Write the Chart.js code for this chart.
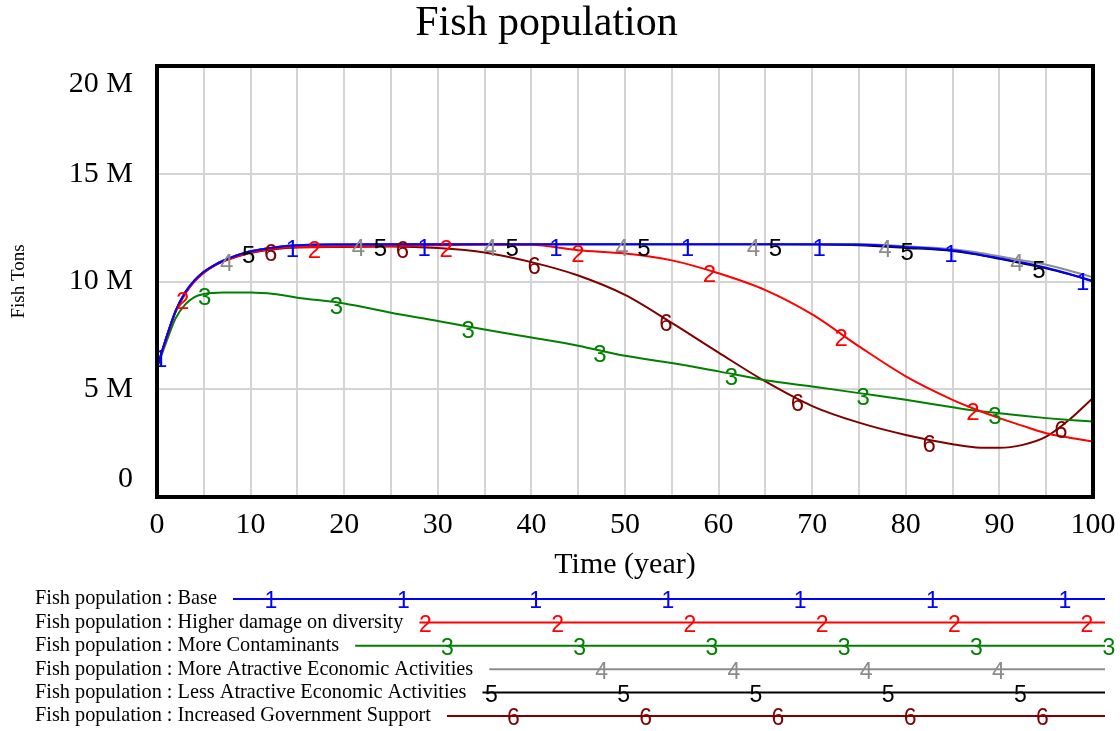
<!DOCTYPE html>
<html><head><meta charset="utf-8">
<script src="https://cdn.jsdelivr.net/npm/chart.js@4.4.1/dist/chart.umd.min.js"></script>
<style>html,body{margin:0;padding:0;background:#fff}#wrap{width:1120px;height:731px;position:relative}</style>
</head><body><div id="wrap"><canvas id="c"></canvas></div>
<script>
// ---- data (values in millions of fish tons) ----
const years = [0,1,2,3,4,5,6,7,8,10,12.5,15,20,25,30,35,40,45,50,55,60,65,70,75,80,85,87.5,90,92.5,95,97.5,100];
const base = [6.0,7.4,8.65,9.49,10.05,10.45,10.73,10.95,11.13,11.4,11.58,11.68,11.72,11.73,11.73,11.73,11.73,11.73,11.73,11.73,11.73,11.73,11.73,11.72,11.6,11.45,11.28,11.08,10.88,10.64,10.35,10.0];
const higherDamage = [6.0,7.35,8.6,9.42,10.0,10.4,10.7,10.92,11.08,11.33,11.52,11.6,11.62,11.65,11.68,11.72,11.7,11.45,11.3,10.98,10.38,9.6,8.47,6.99,5.6,4.51,4.06,3.66,3.3,2.96,2.75,2.57];
const moreContaminants = [6.0,7.2,8.3,8.93,9.28,9.42,9.47,9.49,9.49,9.49,9.42,9.25,8.98,8.55,8.17,7.77,7.4,7.02,6.55,6.22,5.83,5.42,5.13,4.82,4.51,4.16,4.0,3.89,3.77,3.66,3.57,3.5];
const moreAttractive = [6.0,7.4,8.65,9.49,10.05,10.45,10.73,10.95,11.13,11.4,11.58,11.68,11.72,11.73,11.73,11.73,11.73,11.73,11.73,11.73,11.73,11.73,11.73,11.73,11.63,11.5,11.36,11.17,10.98,10.78,10.5,10.2];
const lessAttractive = [6.0,7.4,8.65,9.49,10.05,10.45,10.73,10.95,11.13,11.4,11.58,11.68,11.72,11.73,11.73,11.73,11.73,11.73,11.73,11.73,11.73,11.73,11.72,11.68,11.56,11.42,11.26,11.05,10.84,10.61,10.33,10.02];
const govSupport = [6.0,7.4,8.62,9.45,10.02,10.42,10.7,10.92,11.08,11.33,11.5,11.58,11.6,11.62,11.55,11.35,10.9,10.28,9.38,8.08,6.7,5.36,4.22,3.45,2.88,2.45,2.3,2.28,2.42,2.8,3.6,4.6];

const seriesNames = [
  'Fish population : Base',
  'Fish population : Higher damage on diversity',
  'Fish population : More Contaminants',
  'Fish population : More Atractive Economic Activities',
  'Fish population : Less Atractive Economic Activities',
  'Fish population : Increased Government Support'
];
const seriesValues = [base, higherDamage, moreContaminants, moreAttractive, lessAttractive, govSupport];
const seriesDigits = ['1','2','3','4','5','6'];
const seriesColors = ['#0000ff','#ff0000','#008000','#8c8c8c','#000000','#800000'];
const yTickValues = [0,5,10,15,20];
const yTickText = ['0','5 M','10 M','15 M','20 M'];
const xTickText = ['0','10','20','30','40','50','60','70','80','90','100'];

// marker (digit) placement along the curves, in years
const markerStart = [0.4, 2.75, 5.1, 7.45, 9.8, 12.15];
const markerStep = 14.07;

const SERIF = '"Liberation Serif", "Times New Roman", serif';
const SANS = '"Liberation Sans", Arial, sans-serif';

const datasets = seriesValues.map((vals, i) => ({
  label: seriesNames[i],
  data: years.map((t, k) => ({x: t, y: vals[k]})),
  borderColor: seriesColors[i],
  backgroundColor: seriesColors[i],
  borderWidth: 2,
  pointRadius: 0,
  cubicInterpolationMode: 'monotone',
  fill: false
}));

const overlay = {
  id: 'overlay',
  afterDatasetsDraw(chart) {
    const ctx = chart.ctx, a = chart.chartArea, xs = chart.scales.x;
    ctx.save();
    ctx.beginPath();
    ctx.rect(a.left, a.top, a.right - a.left, a.bottom - a.top);
    ctx.clip();
    ctx.font = '24px ' + SANS;
    ctx.textAlign = 'center';
    ctx.textBaseline = 'middle';
    for (let i = chart.data.datasets.length - 1; i >= 0; i--) {
      const line = chart.getDatasetMeta(i).dataset;
      ctx.fillStyle = seriesColors[i];
      for (let t = markerStart[i]; t <= 100; t += markerStep) {
        let p = line.interpolate({x: xs.getPixelForValue(t)}, 'x');
        if (Array.isArray(p)) p = p[0];
        if (p) ctx.fillText(seriesDigits[i], p.x, p.y + 5);
      }
    }
    ctx.restore();
  },
  afterDraw(chart) {
    const ctx = chart.ctx, a = chart.chartArea;
    ctx.save();
    // frame
    ctx.strokeStyle = '#000';
    ctx.lineWidth = 4;
    ctx.strokeRect(a.left, a.top, a.right - a.left, a.bottom - a.top);
    // legend
    const rowY0 = 599, rowGap = 23.4, textX = 35, lineEnd = 1105;
    for (let i = 0; i < seriesNames.length; i++) {
      const y = rowY0 + i * rowGap;
      ctx.font = '20.3px ' + SERIF;
      ctx.fillStyle = '#000';
      ctx.textAlign = 'left';
      ctx.textBaseline = 'middle';
      ctx.fillText(seriesNames[i], textX, y);
      const x0 = textX + ctx.measureText(seriesNames[i]).width + 16;
      ctx.strokeStyle = seriesColors[i];
      ctx.lineWidth = 2;
      ctx.beginPath();
      ctx.moveTo(x0, y);
      ctx.lineTo(lineEnd, y);
      ctx.stroke();
      ctx.font = '23px ' + SANS;
      ctx.textAlign = 'center';
      ctx.fillStyle = seriesColors[i];
      for (let mx = 271 + 22 * i; mx <= lineEnd + 8; mx += 132.3) {
        if (mx >= x0) ctx.fillText(seriesDigits[i], mx, y + 3);
      }
    }
    ctx.restore();
  }
};

new Chart(document.getElementById('c'), {
  type: 'line',
  data: {datasets},
  options: {
    responsive: true,
    maintainAspectRatio: false,
    animation: false,
    layout: {padding: {top: 0, right: 27, left: 0, bottom: 0}},
    plugins: {
      legend: {display: false},
      tooltip: {enabled: false},
      title: {
        display: true,
        text: 'Fish population',
        color: '#000',
        font: {family: SERIF, size: 42, weight: 'normal', lineHeight: 1},
        padding: {top: 3, bottom: 21}
      }
    },
    scales: {
      x: {
        type: 'linear', min: 0, max: 100,
        afterFit: s => { s.height = 234; s.paddingLeft = 0; s.paddingRight = 0; },
        grid: {color: '#d4d4d4', lineWidth: 2, drawTicks: false},
        border: {display: false},
        ticks: {
          stepSize: 5, autoSkip: false, maxRotation: 0, padding: 10,
          color: '#000', font: {family: SERIF, size: 30},
          callback: v => (v % 10 === 0 ? xTickText[v / 10] : '')
        },
        title: {
          display: true, text: 'Time (year)', color: '#000',
          font: {family: SERIF, size: 30},
          padding: {top: 0, bottom: 148}
        }
      },
      y: {
        min: 0, max: 20,
        afterFit: s => { s.width = 157; },
        grid: {color: '#d4d4d4', lineWidth: 2, drawTicks: false},
        border: {display: false},
        ticks: {
          stepSize: 5, padding: 24, color: '#000',
          font: {family: SERIF, size: 30},
          callback: v => {
            const i = yTickValues.indexOf(v);
            const s = yTickText[i];
            if (i === 0) return [s, ''];
            if (i === yTickValues.length - 1) return ['', s];
            return s;
          }
        },
        title: {
          display: true, text: 'Fish Tons', color: '#000',
          font: {family: SERIF, size: 19},
          padding: {top: 8, bottom: 0}
        }
      }
    }
  },
  plugins: [overlay]
});
</script>
</body></html>
